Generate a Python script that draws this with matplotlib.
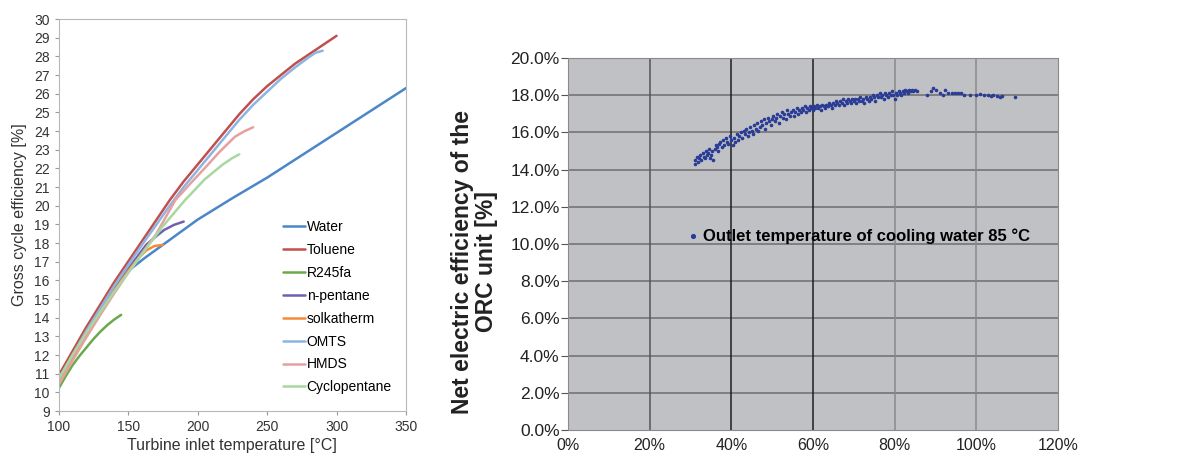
import numpy as np
import matplotlib.pyplot as plt
from matplotlib.ticker import FuncFormatter

plt.rcParams['font.family'] = ['Liberation Sans', 'DejaVu Sans']

# ---- left panel: gross cycle efficiency vs turbine inlet temperature ----
fluids = ['Water', 'Toluene', 'R245fa', 'n-pentane', 'solkatherm', 'OMTS', 'HMDS', 'Cyclopentane']
colors = ['#4a86c8', '#c0504d', '#6aaa4a', '#7060b0', '#f58b3a', '#8db4e2', '#e6a0a0', '#a8d8a0']

water_t = [100, 110, 120, 130, 140, 150, 162, 175, 187, 200, 225, 250, 275, 300, 325, 350]
water_e = [10.6, 11.95, 13.25, 14.45, 15.55, 16.5, 17.2, 17.9, 18.55, 19.25, 20.4, 21.5, 22.7, 23.9, 25.1, 26.3]
toluene_t = [100, 110, 120, 130, 140, 150, 160, 170, 180, 190, 200, 210, 220, 230, 240, 250,
             260, 270, 280, 290, 300]
toluene_e = [10.9, 12.2, 13.5, 14.7, 15.9, 17.0, 18.1, 19.2, 20.3, 21.3, 22.2, 23.1, 24.0, 24.9,
             25.7, 26.4, 27.0, 27.6, 28.1, 28.6, 29.1]
r245fa_t = [100, 105, 110, 115, 120, 125, 130, 135, 140, 145]
r245fa_e = [10.2, 10.85, 11.45, 11.95, 12.4, 12.85, 13.25, 13.6, 13.9, 14.15]
pentane_t = [100, 110, 120, 130, 140, 150, 157, 163, 170, 176, 183, 190]
pentane_e = [10.5, 11.85, 13.15, 14.35, 15.5, 16.6, 17.3, 17.9, 18.35, 18.7, 18.97, 19.15]
solk_t = [100, 110, 120, 130, 140, 150, 157, 163, 169, 175]
solk_e = [10.45, 11.8, 13.1, 14.3, 15.45, 16.5, 17.15, 17.6, 17.84, 17.9]
omts_t = [100, 110, 120, 130, 140, 150, 160, 170, 180, 190, 200, 210, 220, 230, 240, 250,
          260, 270, 280, 285, 290]
omts_e = [10.7, 12.0, 13.3, 14.5, 15.7, 16.8, 17.9, 18.95, 20.0, 21.0, 21.9, 22.8, 23.7, 24.6,
          25.4, 26.1, 26.8, 27.4, 27.95, 28.2, 28.3]
hmds_t = [100, 110, 120, 130, 140, 150, 160, 170, 184, 195, 205, 216, 227, 234, 240]
hmds_e = [10.4, 11.7, 12.95, 14.15, 15.3, 16.4, 17.45, 18.45, 20.3, 21.2, 22.0, 22.9, 23.7, 24.0, 24.2]
cyclo_t = [100, 110, 120, 130, 140, 150, 160, 175, 191, 205, 218, 225, 230]
cyclo_e = [10.7, 12.0, 13.2, 14.3, 15.4, 16.4, 17.4, 18.9, 20.3, 21.4, 22.2, 22.55, 22.75]

curves = [(water_t, water_e), (toluene_t, toluene_e), (r245fa_t, r245fa_e),
          (pentane_t, pentane_e), (solk_t, solk_e), (omts_t, omts_e),
          (hmds_t, hmds_e), (cyclo_t, cyclo_e)]

# ---- right panel: net electric efficiency vs load ----
load = [31.0, 31.2, 31.5, 31.8, 32.0, 32.3, 32.6, 33.0, 33.2, 33.5, 33.8, 34.0, 34.3, 34.6, 34.8,
        35.0, 35.3, 35.6, 35.9, 36.2, 36.5, 36.8, 37.0, 37.3, 37.6, 38.0, 38.3, 38.6, 39.0, 39.3,
        39.6, 40.0,
        40.3, 40.6, 41.0, 41.3, 41.6, 42.0, 42.3, 42.6, 43.0, 43.3, 43.6, 44.0, 44.3, 44.6, 45.0,
        45.3, 45.6, 46.0, 46.3, 46.6, 47.0, 47.3, 47.6, 48.0, 48.3, 48.6, 49.0, 49.3, 49.6, 50.0,
        50.3, 50.6, 51.0, 51.3, 51.6, 52.0, 52.3, 52.6, 53.0, 53.3, 53.6, 54.0, 54.3, 54.6, 55.0,
        55.3, 55.6, 56.0, 56.3, 56.6, 57.0, 57.3, 57.6, 58.0, 58.3, 58.6, 59.0, 59.3, 59.6, 60.0,
        60.3, 60.6, 61.0, 61.3, 61.6, 62.0, 62.3, 62.6, 63.0, 63.3, 63.6, 64.0, 64.3, 64.6, 65.0,
        65.3, 65.6, 66.0, 66.3, 66.6, 67.0, 67.3, 67.6, 68.0, 68.3, 68.6, 69.0, 69.3, 69.6, 70.0,
        70.3, 70.6, 71.0, 71.3, 71.6, 72.0, 72.3, 72.6, 73.0, 73.3, 73.6, 74.0, 74.3, 74.6, 75.0,
        75.3, 75.6, 76.0, 76.3, 76.6, 77.0, 77.3, 77.6, 78.0, 78.3, 78.6, 79.0, 79.3, 79.6, 80.0,
        80.3, 80.6, 81.0, 81.3, 81.6, 82.0, 82.3, 82.6, 83.0, 83.3, 83.6, 84.0, 84.3, 84.6, 85.0,
        85.5,
        88.0, 89.0, 89.5, 90.2, 91.0, 91.8, 92.3, 93.0, 94.0, 94.8, 95.5, 96.2, 97.0, 98.5, 100.0,
        101.0, 102.0, 102.8, 103.5, 104.2, 105.0, 105.8, 106.2, 109.5]
net_eff = [14.5, 14.3, 14.7, 14.4, 14.6, 14.8, 14.5, 14.9, 14.7, 14.6, 15.0, 14.8, 14.9, 15.1, 14.6,
           14.8, 15.0, 14.5, 15.1, 15.3, 15.2, 15.0, 15.4, 15.5, 15.2, 15.6, 15.3, 15.7, 15.5, 15.4,
           15.8, 15.6,
           15.3, 15.7, 15.5, 15.9, 15.6, 15.8, 16.0, 15.7, 16.1, 15.9, 16.2, 15.8, 16.0, 16.3, 16.1,
           15.9, 16.4, 16.2, 16.5, 16.1, 16.3, 16.6, 16.4, 16.7, 16.2, 16.5, 16.8, 16.6, 16.4, 16.7,
           16.9, 16.6, 16.8, 17.0, 16.5, 16.9, 17.1, 16.8, 17.0, 16.7, 17.2, 17.0, 16.9, 17.1, 17.2,
           16.9, 17.1, 17.3, 17.0, 17.2, 17.1, 17.3, 17.2, 17.4, 17.1, 17.3, 17.2, 17.4, 17.3, 17.2,
           17.4, 17.3, 17.5, 17.3, 17.4, 17.2, 17.5, 17.4, 17.3, 17.5, 17.4, 17.6, 17.5, 17.3, 17.6,
           17.5, 17.7, 17.6, 17.5, 17.7, 17.6, 17.8, 17.5, 17.7, 17.6, 17.8, 17.7, 17.6, 17.8, 17.7,
           17.8, 17.6, 17.8, 17.7, 17.9, 17.7, 17.8, 17.6, 17.9, 17.8, 17.7, 17.9, 17.8, 18.0, 17.9,
           17.7, 18.0, 17.9, 18.1, 17.9, 18.0, 17.8, 18.1, 18.0, 17.9, 18.1, 18.0, 18.2, 18.0, 17.8,
           18.1, 18.0, 18.2, 18.1, 18.0, 18.2, 18.1, 18.3, 18.2, 18.1, 18.3, 18.2, 18.3, 18.2, 18.3,
           18.2,
           18.0, 18.2, 18.4, 18.3, 18.1, 18.0, 18.3, 18.1, 18.1, 18.1, 18.1, 18.1, 18.0, 18.0, 18.0,
           18.05, 18.0, 18.0, 17.95, 18.0, 17.95, 17.9, 17.95, 17.9]

fig = plt.figure(figsize=(11.96, 4.55), dpi=100)

# left chart
ax1 = fig.add_axes([0.0490, 0.0967, 0.2905, 0.8615])
for name, col, (t, e) in zip(fluids, colors, curves):
    ax1.plot(t, e, color=col, lw=1.8, label=name, solid_capstyle='round')
ax1.set_xlim(100, 350)
ax1.set_ylim(9, 30)
ax1.set_xticks(np.arange(100, 351, 50))
ax1.set_yticks(np.arange(9, 31, 1))
ax1.tick_params(direction='out', length=3, color='#999999', labelsize=10, labelcolor='#333333')
for sp in ax1.spines.values():
    sp.set_color('#b8b8b8')
ax1.set_xlabel('Turbine inlet temperature [°C]', fontsize=11.5, color='#333333', labelpad=3)
ax1.set_ylabel('Gross cycle efficiency [%]', fontsize=11.5, color='#333333', labelpad=5)
ax1.legend(loc='upper left', bbox_to_anchor=(0.645, 0.487), frameon=False, fontsize=10,
           handlelength=1.6, handletextpad=0.12, labelspacing=0.64, borderpad=0, borderaxespad=0)

# right chart
ax2 = fig.add_axes([0.4749, 0.0549, 0.4097, 0.8176])
ax2.set_facecolor('#c0c1c5')
ax2.scatter(load, net_eff, s=2.5, color='#2a3c96', zorder=3,
            label='Outlet temperature of cooling water 85 °C')
ax2.set_xlim(0, 120)
ax2.set_ylim(0, 20)
ax2.set_xticks(np.arange(0, 121, 20))
ax2.set_yticks(np.arange(0, 20.1, 2))
ax2.xaxis.set_major_formatter(FuncFormatter(lambda v, p: '%d%%' % v))
ax2.yaxis.set_major_formatter(FuncFormatter(lambda v, p: '%.1f%%' % v))
for yv in np.arange(2, 20, 2):
    ax2.axhline(yv, color='#6e6e6e', lw=1.1, zorder=1)
vcols = {20: '#555555', 40: '#1e1e1e', 60: '#1e1e1e', 80: '#8a8a8a', 100: '#8a8a8a'}
for xv, c in vcols.items():
    ax2.axvline(xv, color=c, lw=1.1, zorder=1)
for sp in ax2.spines.values():
    sp.set_color('#8a8a8a')
ax2.tick_params(axis='y', direction='out', length=5, color='#555555', labelsize=12.5, labelcolor='#222222', pad=1)
ax2.tick_params(axis='x', length=0, labelsize=11.5, labelcolor='#222222', pad=6)
ax2.set_ylabel('Net electric efficiency of the\nORC unit [%]', fontsize=16.5, fontweight='bold',
               color='#222222', linespacing=1.05)
ax2.yaxis.set_label_coords(-0.143, 0.452)
ax2.legend(loc='center left', bbox_to_anchor=(0.245, 0.522), frameon=False,
           prop={'weight': 'bold', 'size': 12}, handlelength=0.6, handletextpad=0.3,
           borderpad=0, borderaxespad=0, markerscale=1.7)

plt.savefig('out.png', dpi=100)
